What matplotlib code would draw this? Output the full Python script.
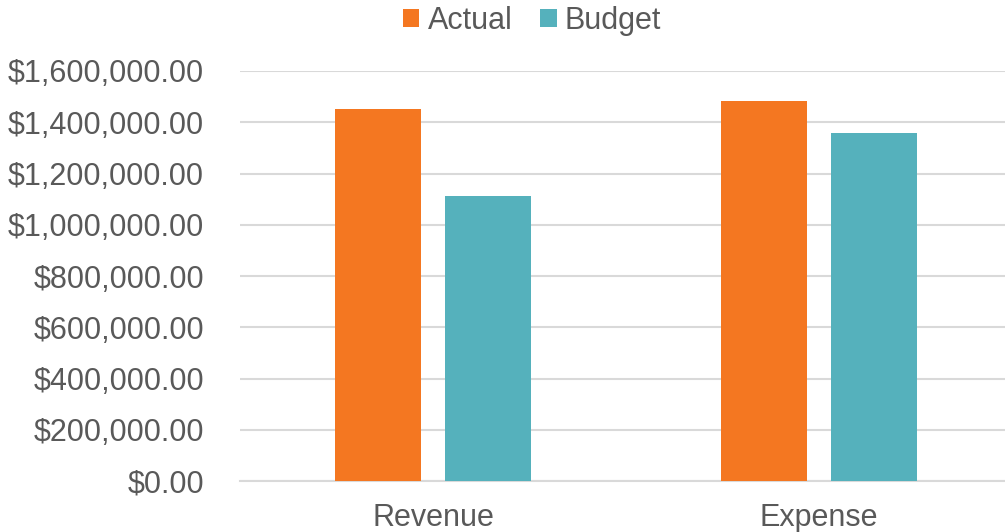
import numpy as np
import matplotlib
matplotlib.use('Agg')
import matplotlib.pyplot as plt
from matplotlib.ticker import FuncFormatter

categories = ['Revenue', 'Expense']
actual = [1452000, 1484000]
budget = [1113000, 1359000]

plt.rcParams['font.family'] = ['Liberation Sans', 'DejaVu Sans']

text_color = '#595959'
grid_color = '#D9D9D9'

fig = plt.figure(figsize=(10.05, 5.32), dpi=100)
ax = fig.add_axes([240 / 1005, 51 / 532, 772 / 1005, 410 / 532])

x = np.arange(len(categories))
width = 0.223
offset = 0.143
ax.bar(x - offset, actual, width, color='#F47721', label='Actual', zorder=3)
ax.bar(x + offset, budget, width, color='#55B1BC', label='Budget', zorder=3)

ax.set_xlim(-0.5, 1.5)
ax.set_ylim(0, 1600000)
ax.set_yticks(np.arange(0, 1600001, 200000))
ax.yaxis.set_major_formatter(FuncFormatter(lambda v, p: '${:,.2f}'.format(v)))
ax.set_xticks(x)
ax.set_xticklabels(categories)

ax.grid(axis='y', color=grid_color, linewidth=1.5, zorder=0)
for s in ['top', 'right', 'left']:
    ax.spines[s].set_visible(False)
ax.spines['bottom'].set_color(grid_color)
ax.spines['bottom'].set_linewidth(1.5)

ax.tick_params(axis='y', length=0, pad=26, labelsize=22, labelcolor=text_color)
ax.tick_params(axis='x', length=0, pad=16, labelsize=22, labelcolor=text_color)

fig.legend(loc='center', bbox_to_anchor=(532 / 1005, 1 - 21 / 532), ncol=2,
           frameon=False, fontsize=22, labelcolor=text_color,
           handlelength=0.55, handleheight=0.55, handletextpad=0.27,
           columnspacing=0.9, borderaxespad=0)

fig.savefig('out.png', dpi=100)
